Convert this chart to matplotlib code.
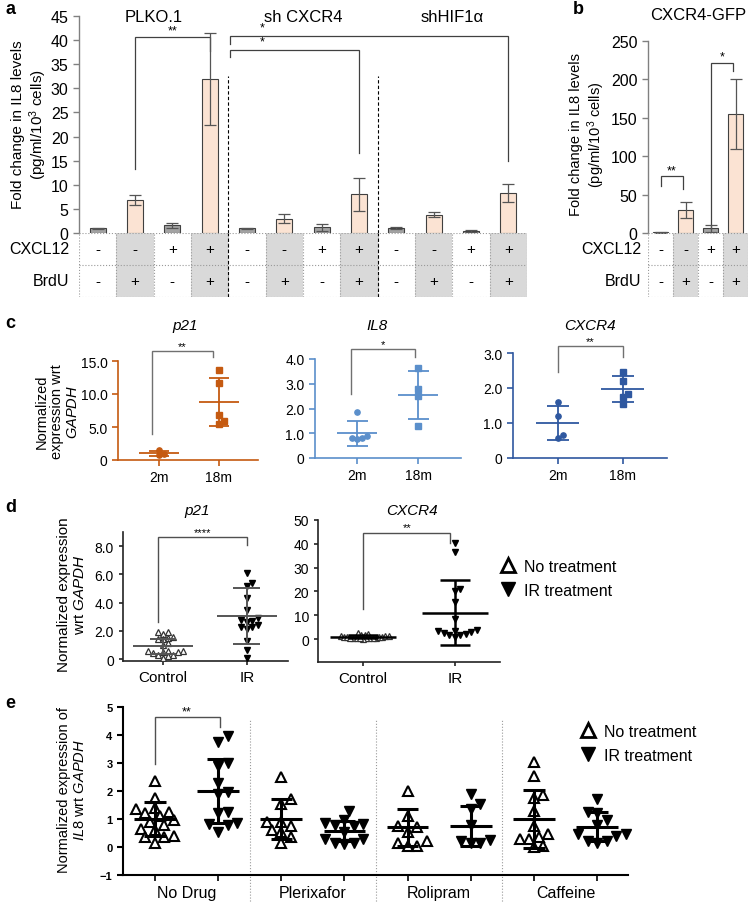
import numpy as np
import matplotlib
matplotlib.use('Agg')
import matplotlib.pyplot as plt
from matplotlib.lines import Line2D
from matplotlib.ticker import FuncFormatter

plt.rcParams['font.family'] = ['Liberation Sans', 'DejaVu Sans']
plt.rcParams['mathtext.fontset'] = 'custom'
plt.rcParams['mathtext.rm'] = 'Liberation Sans'
plt.rcParams['mathtext.it'] = 'Liberation Sans:italic'
plt.rcParams['mathtext.bf'] = 'Liberation Sans:bold'

W, H = 750, 904

# ---------------- data ----------------
# panel a: IL8 fold change, 3 shRNA groups x 4 conditions
a_groups = ['PLKO.1', 'sh CXCR4', 'shHIF1α']
a_cxcl12 = ['-', '-', '+', '+'] * 3
a_brdu = ['-', '+', '-', '+'] * 3
a_mean = [1.0, 6.8, 1.6, 32.0, 1.0, 3.0, 1.2, 8.0, 1.0, 3.8, 0.5, 8.3]
a_err = [0.1, 1.0, 0.5, 9.5, 0.1, 1.0, 0.7, 3.5, 0.2, 0.5, 0.2, 1.8]

# panel b: CXCR4-GFP
b_cxcl12 = ['-', '-', '+', '+']
b_brdu = ['-', '+', '-', '+']
b_mean = [1.0, 30.0, 6.0, 155.0]
b_err = [0.5, 11.0, 5.0, 45.0]

# panel c: 2m vs 18m
c_cats = ['2m', '18m']
c_p21 = [[1.5, 0.7, 0.85], [13.6, 11.7, 6.8, 5.9, 5.4]]
c_p21_mean = [1.0, 8.8]
c_p21_sd = [0.42, 3.7]
c_il8 = [[1.85, 0.8, 0.78, 0.82, 0.88], [3.65, 2.8, 2.5, 1.3]]
c_il8_mean = [1.0, 2.56]
c_il8_sd = [0.5, 0.97]
c_cxcr4 = [[1.6, 1.2, 0.65, 0.57], [2.45, 2.2, 1.82, 1.75, 1.55]]
c_cxcr4_mean = [1.0, 1.96]
c_cxcr4_sd = [0.48, 0.37]

# panel d: control vs IR
d_cats = ['Control', 'IR']
d_p21_ctrl = [1.9, 1.8, 1.95, 1.5, 1.45, 1.4, 1.55, 1.1, 1.0, 0.6, 0.55, 0.5,
              0.6, 0.5, 0.45, 0.3, 0.2, 0.1, 0.25]
d_p21_ir = [6.1, 5.4, 5.15, 4.3, 3.45, 2.9, 2.75, 2.7, 2.25, 2.4, 2.1, 2.3,
            2.6, 1.3, 0.65, 0.1]
d_p21_mean = [0.9, 3.05]
d_p21_sd = [0.55, 2.0]
d_cx_ctrl = [2.5, 2.0, 1.5, 1.2, 1.0, 0.8, 0.6, 0.5, 0.4, 0.3, 0.2, 0.5, 0.7,
             0.9, 1.1, 1.3, 1.8, 0.6, 0.4, 0.3]
d_cx_ir = [40.4, 36.7, 21.0, 20.0, 15.5, 8.5, 3.5, 3.0, 2.2, 1.5, 1.0, 1.8,
           2.5, 3.2, 3.8]
d_cx_mean = [0.9, 11.0]
d_cx_sd = [0.6, 13.6]

# panel e: drugs, no treatment / IR treatment
e_drugs = ['No Drug', 'Plerixafor', 'Rolipram', 'Caffeine']
e_vals = [
    [2.35, 1.75, 1.4, 1.35, 1.25, 1.2, 1.1, 0.95, 0.9, 0.8, 0.65, 0.6, 0.4, 0.35, 0.35, 0.15],
    [3.95, 3.75, 3.0, 2.9, 2.3, 1.95, 1.9, 1.25, 1.2, 0.85, 0.82, 0.8, 0.55],
    [2.5, 1.7, 1.55, 0.9, 0.9, 0.75, 0.6, 0.55, 0.35, 0.15],
    [1.28, 0.95, 0.85, 0.82, 0.8, 0.75, 0.55, 0.3, 0.28, 0.15, 0.12, 0.15],
    [2.0, 1.1, 0.75, 0.7, 0.55, 0.2, 0.15, 0.05, 0.05],
    [1.9, 1.55, 1.35, 0.8, 0.25, 0.2, 0.15, 0.15],
    [3.05, 2.55, 1.85, 1.75, 1.3, 0.75, 0.45, 0.35, 0.3, 0.3, 0.05, 0.0],
    [1.7, 1.25, 1.2, 0.95, 0.8, 0.45, 0.45, 0.4, 0.2, 0.2, 0.15],
]
e_mean = [1.0, 2.0, 1.0, 0.56, 0.7, 0.75, 1.0, 0.72]
e_sd = [0.6, 1.15, 0.72, 0.36, 0.65, 0.7, 1.05, 0.52]

legend_labels = ['No treatment', 'IR treatment']

# ---------------- helpers ----------------
fig = plt.figure(figsize=(W / 100, H / 100), dpi=100)


def fx(x):
    return x / W


def fy(y):
    return 1 - y / H


def add_ax(x0, y0, x1, y1):
    return fig.add_axes([x0 / W, 1 - y1 / H, (x1 - x0) / W, (y1 - y0) / H])


def swarm(ax, xc, vals, diam):
    vals = np.asarray(vals, float)
    disp = ax.transData.transform(np.column_stack([np.full(len(vals), xc), vals]))
    placed = []
    xs = np.empty(len(vals))
    step = diam * 0.5
    for i in np.argsort(vals):
        px0, py = disp[i]
        for k in range(400):
            off = ((k + 1) // 2) * step * (1 if k % 2 else -1)
            ok = all((px0 + off - qx) ** 2 + (py - qy) ** 2 >= diam ** 2 for qx, qy in placed)
            if ok:
                break
        placed.append((px0 + off, py))
        xs[i] = ax.transData.inverted().transform((px0 + off, py))[0]
    return xs


def mean_sd(ax, x, m, s, wm, wc, color, lw, z=4):
    kw = dict(color=color, lw=lw, zorder=z, solid_capstyle='butt')
    ax.plot([x - wm, x + wm], [m, m], **kw)
    ax.plot([x - wc, x + wc], [m + s, m + s], **kw)
    ax.plot([x - wc, x + wc], [m - s, m - s], **kw)
    ax.plot([x, x], [m - s, m + s], **kw)


def bracket(ax, x1, x2, top, b1, b2, txt, tx, ty, fs=9, color='#404040', lw=0.9):
    ax.plot([x1, x1, x2, x2], [b1, top, top, b2], color=color, lw=lw, clip_on=False,
            solid_joinstyle='miter')
    ax.text(tx, ty, txt, ha='center', va='center', fontsize=fs, clip_on=False)


def style_axes(ax, color, lw=1.0):
    for s in ['top', 'right']:
        ax.spines[s].set_visible(False)
    for s in ['left', 'bottom']:
        ax.spines[s].set_color(color)
        ax.spines[s].set_linewidth(lw)
    ax.tick_params(colors=color, labelcolor='black', width=lw, length=4)


def fmt1(v, pos):
    return '0' if abs(v) < 1e-9 else f'{v:.1f}'


def table(ax, cx, br, fs):
    n = len(cx)
    ax.set_xlim(-0.5, n - 0.5)
    ax.set_ylim(0, 2)
    ax.axis('off')
    for i, b in enumerate(br):
        if b == '+':
            ax.axvspan(i - 0.5, i + 0.5, color='#d9d9d9', lw=0)
        ax.text(i, 1.5, cx[i], ha='center', va='center', fontsize=fs)
        ax.text(i, 0.5, b, ha='center', va='center', fontsize=fs)
    for i in range(n + 1):
        ax.axvline(i - 0.5, color='#9a9a9a', lw=0.8, ls=':')
    for y in [0, 1, 2]:
        ax.axhline(y, color='#9a9a9a', lw=0.8, ls=':')
    ax.text(-0.75, 1.5, 'CXCL12', ha='right', va='center', fontsize=fs + 0.5, clip_on=False)
    ax.text(-0.75, 0.5, 'BrdU', ha='right', va='center', fontsize=fs + 0.5, clip_on=False)


grey_bar = '#a3a3a3'
peach_bar = '#fbe3d3'

# ---------------- panel a ----------------
ax_a = add_ax(79, 17, 527, 234)
xa = np.arange(len(a_mean))
cols = [grey_bar if b == '-' else peach_bar for b in a_brdu]
ax_a.bar(xa, a_mean, width=0.42, color=cols, edgecolor='#404040', lw=0.8, zorder=2)
ax_a.errorbar(xa, a_mean, yerr=a_err, fmt='none', ecolor='#555555', elinewidth=0.9,
              capsize=4.5, capthick=0.9, zorder=3)
ax_a.set_xlim(-0.5, 11.5)
ax_a.set_ylim(0, 45)
ax_a.set_yticks(range(0, 46, 5))
ax_a.set_xticks([])
style_axes(ax_a, '#808080')
ax_a.spines['bottom'].set_visible(False)
ax_a.tick_params(axis='y', labelsize=11.5, length=4)
for g, name in enumerate(a_groups):
    ax_a.text(g * 4 + 1.5, 45, name, ha='center', va='center', fontsize=12)
for xs_ in [3.5, 7.5]:
    ax_a.plot([xs_, xs_], [0, 32.6], color='black', lw=0.8, ls=(0, (3, 2)))
bracket(ax_a, 1, 3, 40.6, 13.3, 37.7, '**', 2.0, 42.0)
bracket(ax_a, 3.55, 11, 40.9, 39.2, 14.9, '*', 4.4, 42.6)
bracket(ax_a, 3.55, 7, 37.9, 36.5, 16.6, '*', 4.4, 39.7)

ax_at = add_ax(79, 234, 527, 298)
table(ax_at, a_cxcl12, a_brdu, 11)
for xs_ in [3.5, 7.5]:
    ax_at.axvline(xs_, color='black', lw=0.8, ls=(0, (3, 2)))

fig.text(fx(30), fy(125), 'Fold change in IL8 levels\n(pg/ml/10$^3$ cells)', rotation=90,
         ha='center', va='center', fontsize=11, linespacing=1.15)
fig.text(fx(5), fy(10), 'a', fontsize=13, fontweight='bold', va='center')

# ---------------- panel b ----------------
ax_b = add_ax(648, 42, 748, 234)
xb = np.arange(len(b_mean))
cols = [grey_bar if b == '-' else peach_bar for b in b_brdu]
ax_b.bar(xb, b_mean, width=0.6, color=cols, edgecolor='#404040', lw=0.8, zorder=2)
ax_b.errorbar(xb, b_mean, yerr=b_err, fmt='none', ecolor='#555555', elinewidth=0.9,
              capsize=4.5, capthick=0.9, zorder=3)
ax_b.set_xlim(-0.5, 3.5)
ax_b.set_ylim(0, 250)
ax_b.set_yticks(range(0, 251, 50))
ax_b.set_xticks([])
style_axes(ax_b, '#808080')
ax_b.spines['bottom'].set_visible(False)
ax_b.tick_params(axis='y', labelsize=11.5, length=4)
bracket(ax_b, 0, 0.9, 74, 61, 57, '**', 0.45, 81)
bracket(ax_b, 2, 2.9, 222, 5, 211, '*', 2.45, 230)

ax_bt = add_ax(648, 234, 748, 298)
table(ax_bt, b_cxcl12, b_brdu, 11)
fig.text(fx(698), fy(16), 'CXCR4-GFP', ha='center', va='center', fontsize=12)
fig.text(fx(588), fy(135), 'Fold change in IL8 levels\n(pg/ml/10$^3$ cells)', rotation=90,
         ha='center', va='center', fontsize=10.5, linespacing=1.1)
fig.text(fx(573), fy(10), 'b', fontsize=13, fontweight='bold', va='center')

# ---------------- panel c ----------------
c_specs = [
    ((118, 362, 258, 461), (-0.683, 1.65), 15, [0, 5, 10, 15], c_p21, c_p21_mean, c_p21_sd,
     '#c55a11', 'p21', 185, '**', (-0.12, 0.9, 16.5, 3.9, 15.6)),
    ((315, 360, 461, 459), (-0.69, 1.70), 4, [0, 1, 2, 3, 4], c_il8, c_il8_mean, c_il8_sd,
     '#5b8fcb', 'IL8', 377, '*', (-0.1, 0.95, 4.4, 2.6, 4.1)),
    ((513, 354, 667, 459), (-0.69, 1.68), 3, [0, 1, 2, 3], c_cxcr4, c_cxcr4_mean, c_cxcr4_sd,
     '#2f58a0', 'CXCR4', 590, '**', (0.0, 1.0, 3.2, 2.45, 2.9)),
]
for box, xl, ytop, yt, pts, mu, sd, col, title, tx, star, br in c_specs:
    ax = add_ax(*box)
    ax.set_xlim(*xl)
    ax.set_ylim(0, ytop)
    ax.set_yticks(yt)
    ax.yaxis.set_major_formatter(FuncFormatter(fmt1))
    ax.set_xticks([0, 1])
    ax.set_xticklabels(c_cats)
    style_axes(ax, col, lw=1.2)
    ax.tick_params(labelsize=10, length=4)
    for i in range(2):
        xs = swarm(ax, i, pts[i], 5.0)
        ax.plot(xs, pts[i], ls='none', marker='o' if i == 0 else 's', ms=3.8,
                color=col, mec=col, zorder=5, clip_on=False)
        mean_sd(ax, i, mu[i], sd[i], 0.33, 0.17, col, 1.3, z=4)
    x1, x2, top, b1, b2 = br
    bracket(ax, x1, x2, top, b1, b2, star, (x1 + x2) / 2, top + ytop * 0.05,
            fs=8, color='#707070', lw=1.0)
    fig.text(fx(tx), fy(326), title, ha='center', va='center', fontsize=11, style='italic')

fig.text(fx(57), fy(412), 'Normalized\nexpression wrt\n$\\mathit{GAPDH}$', rotation=90,
         ha='center', va='center', multialignment='center', fontsize=10.5, linespacing=1.15)
fig.text(fx(5), fy(324), 'c', fontsize=13, fontweight='bold', va='center')

# ---------------- panel d ----------------
d_specs = [
    ((123, 533, 288, 662), (-0.476, 1.49), (-0.14, 9.0), [0, 2, 4, 6, 8], FuncFormatter(fmt1),
     d_p21_ctrl, d_p21_ir, d_p21_mean, d_p21_sd, 'p21', 197, '****',
     (-0.06, 1.0, 8.66, 2.6, 8.1), '#555555', 1.4, 5.0),
    ((318, 521, 500, 663), (-0.49, 1.49), (-9.66, 50), [0, 10, 20, 30, 40, 50],
     FuncFormatter(lambda v, p: f'{v:.0f}'),
     d_cx_ctrl, d_cx_ir, d_cx_mean, d_cx_sd, 'CXCR4', 412, '**',
     (0.0, 0.95, 44.6, 12.5, 40.4), 'black', 1.8, 3.2),
]
for (box, xl, yl, yt, fm, ctrl, ir, mu, sd, title, tx, star, br, lcol, llw, cdiam) in d_specs:
    ax = add_ax(*box)
    ax.set_xlim(*xl)
    ax.set_ylim(*yl)
    ax.set_yticks(yt)
    ax.yaxis.set_major_formatter(fm)
    ax.set_xticks([0, 1])
    ax.set_xticklabels(d_cats)
    style_axes(ax, '#222222', lw=1.2)
    ax.tick_params(axis='y', labelsize=10, length=3)
    ax.tick_params(axis='x', labelsize=11, length=3)
    xs = swarm(ax, 0, ctrl, cdiam)
    ax.plot(xs, ctrl, ls='none', marker='^', ms=4.2, mfc='white', mec='#333333',
            mew=0.9, zorder=3)
    xs = swarm(ax, 1, ir, 5.5)
    ax.plot(xs, ir, ls='none', marker='v', ms=4.5, color='black', zorder=3)
    for i in range(2):
        mean_sd(ax, i, mu[i], sd[i], 0.36, 0.16, lcol, llw)
    x1, x2, top, b1, b2 = br
    bracket(ax, x1, x2, top, b1, b2, star, (x1 + x2) / 2, top + (yl[1] - yl[0]) * 0.04,
            fs=8, color='#505050', lw=1.0)
    fig.text(fx(tx), fy(511), title, ha='center', va='center', fontsize=11, style='italic')

fig.text(fx(72), fy(595), 'Normalized expression\nwrt $\\mathit{GAPDH}$', rotation=90,
         ha='center', va='center', multialignment='center', fontsize=11, linespacing=1.1)
fig.text(fx(5), fy(508), 'd', fontsize=13, fontweight='bold', va='center')

handles = [Line2D([], [], ls='none', marker='^', ms=10, mfc='white', mec='black', mew=2.0),
           Line2D([], [], ls='none', marker='v', ms=10, color='black')]
fig.legend(handles, legend_labels, loc='upper left', bbox_to_anchor=(fx(500), fy(560)),
           frameon=False, fontsize=11.5, handlelength=1.0, handletextpad=0.5,
           labelspacing=0.55, borderaxespad=0, borderpad=0)

# ---------------- panel e ----------------
ax_e = add_ax(123, 708, 628, 876)
ax_e.set_xlim(-0.506, 7.49)
ax_e.set_ylim(-1, 5)
ax_e.set_yticks(range(-1, 6))
style_axes(ax_e, 'black', lw=1.5)
ax_e.tick_params(axis='y', labelsize=8, length=4)
for lab in ax_e.get_yticklabels():
    lab.set_fontweight('bold')
ax_e.set_xticks(range(8))
ax_e.set_xticklabels([])
ax_e.set_xticks([0.5, 2.5, 4.5, 6.5], minor=True)
ax_e.set_xticklabels(e_drugs, minor=True, fontsize=11.5)
ax_e.tick_params(axis='x', which='minor', length=0, pad=7)
ax_e.tick_params(axis='x', which='major', length=4, width=1.2)
for k, vals in enumerate(e_vals):
    xs = swarm(ax_e, k, vals, 9.5)
    if k % 2 == 0:
        ax_e.plot(xs, vals, ls='none', marker='^', ms=7, mfc='white', mec='black',
                  mew=1.5, zorder=3, clip_on=False)
    else:
        ax_e.plot(xs, vals, ls='none', marker='v', ms=7.5, color='black', zorder=3,
                  clip_on=False)
    mean_sd(ax_e, k, e_mean[k], e_sd[k], 0.33, 0.17, 'black', 2.2)
for xs_ in [1.5, 3.5, 5.5]:
    ax_e.plot([xs_, xs_], [-2.75, 4.57], color='#9a9a9a', lw=0.8, ls=':', clip_on=False)
bracket(ax_e, 0, 1.03, 4.64, 2.96, 4.29, '**', 0.5, 4.85, fs=9, color='#505050', lw=1.0)

fig.text(fx(72), fy(790), 'Normalized expression of\n$\\mathit{IL8}$ wrt $\\mathit{GAPDH}$',
         rotation=90, ha='center', va='center', multialignment='center', fontsize=10.5,
         linespacing=1.1)
fig.text(fx(5), fy(704), 'e', fontsize=13, fontweight='bold', va='center')
fig.legend(handles, legend_labels, loc='upper left', bbox_to_anchor=(fx(580), fy(725)),
           frameon=False, fontsize=11.5, handlelength=1.0, handletextpad=0.5,
           labelspacing=0.55, borderaxespad=0, borderpad=0)

fig.savefig('out.png', dpi=100)
